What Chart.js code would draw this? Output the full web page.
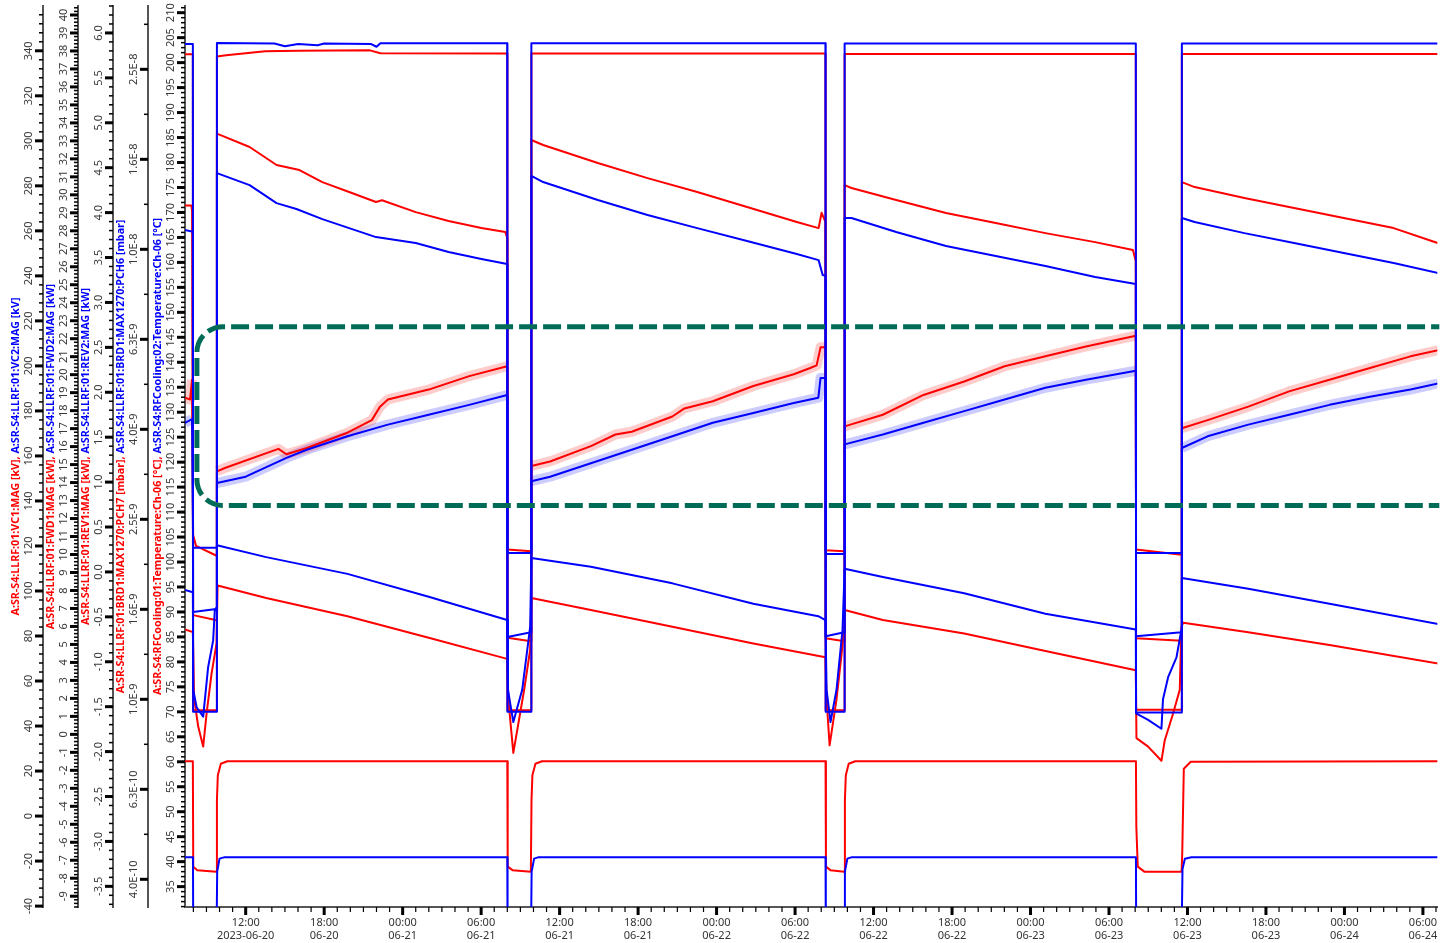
<!DOCTYPE html>
<html>
<head>
<meta charset="utf-8">
<title>SR-S4 LLRF</title>
<script src="https://cdn.jsdelivr.net/npm/chart.js@4.4.1/dist/chart.umd.min.js"></script>
<style>
  html, body { margin: 0; padding: 0; background: #fff; }
</style>
</head>
<body>
<canvas id="rfChart" width="1445" height="943"></canvas>
<script>
// all times are hours counted from 2023-06-20 00:00
const dayZero = Date.UTC(2023, 5, 20);

// cavity voltage [kV]
const vc1Red = [
  [7.36, 338.5], [7.96, 338.5], [7.98, 47.0], [9.78, 47.0], [9.80, 337.5], [10.5, 338.0], [13.5, 339.8],
  [16.0, 340.0], [21.5, 340.2], [22.3, 338.9], [31.99, 338.8], [32.01, 47.0], [33.82, 47.0], [33.84, 338.8],
  [56.32, 338.8], [56.34, 47.0], [57.77, 47.0], [57.79, 338.6], [80.05, 338.6], [80.07, 47.2], [83.55, 47.2],
  [83.57, 338.6], [103.2, 338.6]
];
const vc2Blue = [
  [7.36, 343.0], [7.96, 343.0], [7.98, 46.3], [9.78, 46.3], [9.80, 343.5], [14.2, 343.2], [15.0, 342.0],
  [16.0, 343.0], [17.5, 342.5], [18.0, 343.2], [21.6, 343.0], [22.0, 341.8], [22.3, 343.3], [31.99, 343.3],
  [32.01, 46.3], [33.82, 46.3], [33.84, 343.3], [56.32, 343.3], [56.34, 46.3], [57.77, 46.3], [57.79, 343.2],
  [80.05, 343.2], [80.07, 46.0], [83.55, 46.0], [83.57, 343.2], [103.2, 343.2]
];

// forward power [kW]
const fwd1Red = [
  [7.36, 29.4], [7.85, 29.4], [7.90, 29.1], [7.96, 29.1], [7.98, 6.63], [9.78, 6.35], [9.80, 33.4],
  [12.30, 32.66], [14.36, 31.66], [16.11, 31.38], [17.86, 30.71], [19.91, 30.16], [21.96, 29.6], [22.42, 29.7],
  [25.00, 29.04], [27.51, 28.54], [30.02, 28.15], [31.85, 27.93], [31.99, 27.6], [32.01, 5.37], [33.82, 5.18],
  [33.84, 33.05], [34.74, 32.77], [38.92, 31.77], [42.72, 30.93], [46.52, 30.16], [50.33, 29.32], [54.13, 28.49],
  [55.80, 28.15], [56.03, 29.0], [56.32, 28.5], [56.34, 5.35], [57.77, 5.18], [57.79, 30.54], [58.31, 30.38],
  [61.73, 29.71], [65.54, 28.99], [69.34, 28.43], [73.14, 27.87], [76.94, 27.37], [79.83, 26.93], [80.05, 26.3],
  [80.07, 5.35], [83.55, 5.2], [83.57, 30.71], [84.55, 30.43], [88.35, 29.82], [92.15, 29.27], [95.95, 28.71],
  [99.76, 28.15], [103.2, 27.3]
];
const fwd2Blue = [
  [7.36, 28.05], [7.96, 27.95], [7.98, 6.80], [9.6, 6.96], [9.78, 6.9], [9.80, 31.21], [12.30, 30.54],
  [14.36, 29.54], [15.88, 29.21], [17.86, 28.65], [19.91, 28.15], [21.96, 27.65], [25.00, 27.32], [27.51, 26.82],
  [30.02, 26.43], [31.99, 26.15], [32.01, 5.41], [33.82, 5.68], [33.84, 31.05], [34.74, 30.71], [38.92, 29.71],
  [42.72, 28.88], [46.52, 28.15], [50.33, 27.43], [54.13, 26.71], [55.80, 26.37], [56.11, 25.54], [56.32, 25.5],
  [56.34, 5.46], [57.77, 5.68], [57.79, 28.71], [58.31, 28.71], [61.73, 27.93], [65.54, 27.15], [69.34, 26.60],
  [73.14, 26.04], [76.94, 25.43], [80.05, 25.04], [80.07, 5.46], [83.55, 5.68], [83.57, 28.71], [84.55, 28.49],
  [88.35, 27.87], [92.15, 27.32], [95.95, 26.76], [99.76, 26.21], [103.2, 25.65]
];

// reflected power [kW]
const rev1Red = [
  [7.36, 1.94], [7.75, 1.92], [7.90, 2.14], [7.96, 2.14], [7.98, 0.41], [8.2, 0.29], [9.78, 0.18], [9.80, 1.12],
  [10.46, 1.16], [14.50, 1.37], [15.12, 1.31], [16.67, 1.38], [19.78, 1.55], [21.64, 1.69], [22.27, 1.84],
  [22.87, 1.92], [25.99, 2.03], [29.09, 2.18], [31.99, 2.29], [32.01, 0.25], [33.82, 0.23], [33.84, 1.18],
  [35.27, 1.23], [38.39, 1.40], [40.27, 1.53], [41.51, 1.56], [44.62, 1.73], [45.54, 1.82], [47.71, 1.90],
  [50.81, 2.07], [53.90, 2.20], [55.16, 2.27], [55.65, 2.30], [55.95, 2.50], [56.32, 2.50], [56.34, 0.24],
  [57.77, 0.23], [57.79, 1.62], [60.71, 1.75], [63.82, 1.97], [66.93, 2.12], [70.02, 2.29], [73.14, 2.40],
  [76.24, 2.51], [80.05, 2.63], [80.07, 0.25], [83.55, 0.19], [83.57, 1.60], [85.54, 1.69], [88.65, 1.84],
  [91.77, 2.01], [94.86, 2.14], [97.95, 2.27], [101.05, 2.40], [103.2, 2.47]
];
const rev2Blue = [
  [7.36, 1.66], [7.90, 1.70], [7.96, 1.70], [7.98, 0.27], [9.78, 0.27], [9.80, 0.99], [12.0, 1.06],
  [15.12, 1.27], [16.67, 1.36], [19.78, 1.51], [22.87, 1.64], [25.99, 1.75], [29.09, 1.86], [31.99, 1.97],
  [32.01, 0.21], [33.82, 0.21], [33.84, 1.01], [35.27, 1.06], [38.39, 1.21], [41.51, 1.36], [44.62, 1.51],
  [47.71, 1.66], [50.81, 1.77], [53.90, 1.88], [55.78, 1.94], [55.95, 2.16], [56.32, 2.16], [56.34, 0.20],
  [57.77, 0.20], [57.79, 1.42], [60.71, 1.53], [63.82, 1.66], [66.93, 1.79], [70.02, 1.92], [73.14, 2.05],
  [76.24, 2.14], [80.05, 2.24], [80.07, 0.21], [83.55, 0.21], [83.57, 1.38], [85.54, 1.51], [88.65, 1.64],
  [91.77, 1.75], [94.86, 1.86], [97.95, 1.95], [101.05, 2.03], [103.2, 2.10]
];

// vacuum [mbar]
const pch7Red = [
  [7.36, 1.43e-9], [7.96, 1.41e-9], [8.05, 1.01e-9], [8.37, 8.7e-10], [8.75, 7.85e-10], [9.01, 9.3e-10],
  [9.39, 1.14e-9], [9.77, 1.33e-9], [9.85, 1.79e-9], [13.57, 1.68e-9], [19.78, 1.53e-9], [25.99, 1.37e-9],
  [31.99, 1.23e-9], [32.08, 1.0e-9], [32.46, 7.6e-10], [33.29, 1.05e-9], [33.75, 1.29e-9], [33.84, 1.68e-9],
  [38.39, 1.58e-9], [44.62, 1.45e-9], [50.81, 1.33e-9], [56.32, 1.24e-9], [56.41, 1.0e-9], [56.64, 7.9e-10],
  [57.17, 1.0e-9], [57.63, 1.32e-9], [57.79, 1.58e-9], [60.71, 1.50e-9], [66.93, 1.40e-9], [73.14, 1.28e-9],
  [80.05, 1.16e-9], [80.10, 8.2e-10], [80.99, 7.85e-10], [82.01, 7.3e-10], [82.26, 8.1e-10], [82.90, 9.3e-10],
  [83.41, 1.05e-9], [83.54, 1.45e-9], [83.68, 1.48e-9], [88.65, 1.41e-9], [94.86, 1.32e-9], [103.2, 1.20e-9]
];
const pch6Blue = [
  [7.36, 1.75e-9], [7.96, 1.73e-9], [7.99, 1.05e-9], [8.25, 9.6e-10], [8.75, 9.15e-10], [9.13, 1.18e-9],
  [9.51, 1.35e-9], [9.64, 1.58e-9], [9.78, 1.60e-9], [9.80, 2.20e-9], [13.57, 2.07e-9], [19.78, 1.90e-9],
  [25.99, 1.69e-9], [31.99, 1.50e-9], [32.05, 1.05e-9], [32.46, 8.9e-10], [33.14, 1.05e-9], [33.75, 1.45e-9],
  [33.84, 2.06e-9], [38.39, 1.97e-9], [44.62, 1.81e-9], [50.81, 1.63e-9], [55.78, 1.53e-9], [56.32, 1.50e-9],
  [56.41, 1.05e-9], [56.71, 8.9e-10], [57.17, 1.05e-9], [57.63, 1.43e-9], [57.79, 1.95e-9], [60.71, 1.87e-9],
  [66.93, 1.72e-9], [73.14, 1.55e-9], [80.05, 1.43e-9], [80.07, 9.3e-10], [80.99, 9.0e-10], [82.01, 8.6e-10],
  [82.13, 1.0e-9], [82.52, 1.12e-9], [83.16, 1.24e-9], [83.54, 1.43e-9], [83.57, 1.86e-9], [88.65, 1.76e-9],
  [94.86, 1.63e-9], [103.2, 1.47e-9]
];

// cooling water temperature [°C]
const temp1Red = [
  [7.36, 60.1], [7.96, 60.1], [7.99, 39.0], [8.3, 38.3], [9.75, 38.0], [9.80, 52.3], [9.87, 57.3], [10.1, 59.6],
  [10.6, 60.1], [32.0, 60.1], [32.03, 39.0], [32.4, 38.3], [33.8, 38.0], [33.85, 52.3], [33.92, 57.3],
  [34.15, 59.6], [34.65, 60.1], [56.33, 60.1], [56.36, 39.0], [56.7, 38.3], [57.76, 38.0], [57.81, 52.3],
  [57.88, 57.3], [58.1, 59.6], [58.6, 60.1], [80.06, 60.1], [80.09, 47.0], [80.2, 39.0], [80.7, 38.0],
  [83.55, 38.0], [83.6, 41.7], [83.72, 58.6], [84.25, 60.0], [103.2, 60.1]
];
const temp2Blue = [
  [7.36, 40.9], [7.97, 40.9], [7.99, 25], [9.77, 25], [9.82, 38.0], [10.0, 40.6], [10.4, 40.9], [32.0, 40.9],
  [32.02, 25], [33.81, 25], [33.86, 38.0], [34.05, 40.6], [34.4, 40.9], [56.33, 40.9], [56.35, 25], [57.76, 25],
  [57.81, 38.0], [58.0, 40.6], [58.35, 40.9], [80.06, 40.9], [80.08, 25], [83.55, 25], [83.62, 38.5],
  [83.8, 40.6], [84.3, 40.9], [103.2, 40.9]
];

// highlighted region: hours and reflected power [kW]
const focusHours = [8.27, 104];
const focusRevKw = [2.73, 0.74];

const axisTitles = {
  yKV: ['A:SR-S4:LLRF:01:VC1:MAG [kV]', 'A:SR-S4:LLRF:01:VC2:MAG [kV]'],
  yFWD: ['A:SR-S4:LLRF:01:FWD1:MAG [kW]', 'A:SR-S4:LLRF:01:FWD2:MAG [kW]'],
  yREV: ['A:SR-S4:LLRF:01:REV1:MAG [kW]', 'A:SR-S4:LLRF:01:REV2:MAG [kW]'],
  yP: ['A:SR-S4:LLRF:01:BRD1:MAX1270:PCH7 [mbar]', 'A:SR-S4:LLRF:01:BRD1:MAX1270:PCH6 [mbar]'],
  yT: ['A:SR-S4:RFCooling:01:Temperature:Ch-06 [°C]', 'A:SR-S4:RFCooling:02:Temperature:Ch-06 [°C]']
};

const RED = '#ff0000', BLUE = '#0000ff';
Chart.defaults.font.family = '"Noto Sans", "DejaVu Sans", sans-serif';

const pts = arr => arr.map(([x, y]) => ({ x, y }));

function line(label, arr, axis, color, order) {
  return { label, data: pts(arr), yAxisID: axis, borderColor: color, borderWidth: 2,
    pointRadius: 0, tension: 0, fill: false, borderJoinStyle: 'round', order };
}
// min/max envelope, only shown while RF is on (REV above 0.6 kW)
function band(label, arr, axis, color) {
  return { label, data: pts(arr), yAxisID: axis, borderColor: color, borderWidth: 10,
    pointRadius: 0, tension: 0, fill: false, borderJoinStyle: 'round', order: 20,
    segment: { borderColor: c => (c.p0.parsed.y < 0.6 || c.p1.parsed.y < 0.6) ? 'rgba(0,0,0,0)' : color } };
}

// ticks every `step`, majors every `majorStep`
function linearTicks(step, majorStep) {
  return scale => {
    const out = [];
    const n0 = Math.ceil(scale.min / step - 1e-9), n1 = Math.floor(scale.max / step + 1e-9);
    for (let n = n0; n <= n1; n++) {
      const v = +(n * step).toFixed(6);
      const r = v / majorStep;
      out.push({ value: v, major: Math.abs(r - Math.round(r)) < 1e-6 });
    }
    scale.ticks = out;
  };
}
function logTicks(scale) {
  const out = [];
  const k0 = Math.ceil(Math.log10(scale.min) * 10 - 1e-9), k1 = Math.floor(Math.log10(scale.max) * 10 + 1e-9);
  for (let k = k0; k <= k1; k++) out.push({ value: Math.pow(10, k / 10), major: k % 2 === 0 });
  scale.ticks = out;
}

function yAxis(type, min, max, weight, width, ticker, fmt) {
  return {
    type, position: 'left', min, max, weight, bounds: 'data',
    afterBuildTicks: ticker,
    afterFit: s => { s.width = width; },
    grid: { display: false, drawTicks: false },
    border: { display: true, color: '#555', width: 2 },
    ticks: { display: false, callback: (v, i, ticks) => ticks[i].major ? fmt(v) : '' }
  };
}

// dashed focus box, rotated tick marks, tick labels and two-colour titles on the left axes
const axisDecor = {
  id: 'axisDecor',
  afterDatasetsDraw(chart) {
    const { ctx, chartArea: a } = chart;
    const x0 = chart.scales.x.getPixelForValue(focusHours[0]);
    const x1 = chart.scales.x.getPixelForValue(focusHours[1]);
    const yTop = chart.scales.yREV.getPixelForValue(focusRevKw[0]);
    const yBot = chart.scales.yREV.getPixelForValue(focusRevKw[1]);
    const r = 26;
    ctx.save();
    ctx.beginPath();
    ctx.rect(a.left, a.top, a.right - a.left + 2, a.bottom - a.top);
    ctx.clip();
    ctx.strokeStyle = '#006c58';
    ctx.lineWidth = 5;
    ctx.setLineDash([18, 6]);
    ctx.beginPath();
    ctx.moveTo(x1, yTop);
    ctx.lineTo(x0 + r, yTop);
    ctx.arcTo(x0, yTop, x0, yTop + r, r);
    ctx.lineTo(x0, yBot - r);
    ctx.arcTo(x0, yBot, x0 + r, yBot, r);
    ctx.lineTo(x1, yBot);
    ctx.stroke();
    ctx.restore();
  },
  afterDraw(chart) {
    const { ctx, chartArea: a, scales } = chart;
    ctx.save();
    for (const id of Object.keys(axisTitles)) {
      const s = scales[id];
      const xr = s.right;
      ctx.fillStyle = '#000';
      for (const t of s.ticks) {
        const py = s.getPixelForValue(t.value);
        if (t.major) ctx.fillRect(xr - 8, py - 1.5, 8, 3);
        else ctx.fillRect(xr - 4, py - 0.75, 4, 1.5);
      }
      ctx.font = '11px "Noto Sans"';
      ctx.fillStyle = '#3a3a3a';
      ctx.textAlign = 'center';
      ctx.textBaseline = 'middle';
      for (const t of s.ticks) {
        if (!t.label) continue;
        ctx.save();
        ctx.translate(xr - 14, s.getPixelForValue(t.value));
        ctx.rotate(-Math.PI / 2);
        ctx.fillText(t.label, 0, 0);
        ctx.restore();
      }
      const [p1, p2] = axisTitles[id];
      ctx.font = 'bold 10.7px "Noto Sans"';
      const first = p1 + ', ';
      const w1 = ctx.measureText(first).width, w2 = ctx.measureText(p2).width;
      ctx.save();
      ctx.translate(xr - 27, (a.top + a.bottom) / 2);
      ctx.rotate(-Math.PI / 2);
      ctx.textAlign = 'left';
      ctx.fillStyle = RED;
      ctx.fillText(first, -(w1 + w2) / 2, 0);
      ctx.fillStyle = BLUE;
      ctx.fillText(p2, -(w1 + w2) / 2 + w1, 0);
      ctx.restore();
    }
    // time axis tick marks
    const sx = scales.x;
    ctx.fillStyle = '#000';
    for (const t of sx.ticks) {
      const px = sx.getPixelForValue(t.value);
      if (t.major) ctx.fillRect(px - 1.5, sx.top, 3, 8);
      else ctx.fillRect(px - 0.6, sx.top, 1.2, 5);
    }
    ctx.restore();
  }
};

new Chart(document.getElementById('rfChart'), {
  type: 'line',
  data: {
    datasets: [
      band('REV1 band', rev1Red, 'yREV', 'rgba(255,0,0,0.2)'),
      band('REV2 band', rev2Blue, 'yREV', 'rgba(0,0,255,0.2)'),
      line('A:SR-S4:LLRF:01:VC1:MAG', vc1Red, 'yKV', RED, 5),
      line('A:SR-S4:LLRF:01:FWD1:MAG', fwd1Red, 'yFWD', RED, 5),
      line('A:SR-S4:LLRF:01:REV1:MAG', rev1Red, 'yREV', RED, 5),
      line('A:SR-S4:LLRF:01:BRD1:MAX1270:PCH7', pch7Red, 'yP', RED, 5),
      line('A:SR-S4:RFCooling:01:Temperature:Ch-06', temp1Red, 'yT', RED, 5),
      line('A:SR-S4:LLRF:01:VC2:MAG', vc2Blue, 'yKV', BLUE, 1),
      line('A:SR-S4:LLRF:01:FWD2:MAG', fwd2Blue, 'yFWD', BLUE, 1),
      line('A:SR-S4:LLRF:01:REV2:MAG', rev2Blue, 'yREV', BLUE, 1),
      line('A:SR-S4:LLRF:01:BRD1:MAX1270:PCH6', pch6Blue, 'yP', BLUE, 1),
      line('A:SR-S4:RFCooling:02:Temperature:Ch-06', temp2Blue, 'yT', BLUE, 1)
    ]
  },
  options: {
    responsive: false,
    animation: false,
    events: [],
    layout: { padding: { top: 6, right: 1, left: 0, bottom: 0 } },
    plugins: { legend: { display: false }, tooltip: { enabled: false } },
    scales: {
      x: {
        type: 'linear', position: 'bottom', min: 7.36, max: 103.1, bounds: 'data',
        afterBuildTicks: s => {
          const out = [];
          for (let h = Math.ceil(s.min); h <= Math.floor(s.max); h++) out.push({ value: h, major: h % 6 === 0 });
          s.ticks = out;
        },
        afterFit: s => { s.height = 36; },
        grid: { display: false, drawTicks: false },
        border: { display: true, color: '#555', width: 2 },
        ticks: {
          autoSkip: false, maxRotation: 0, minRotation: 0, padding: 9, color: '#333',
          font: { size: 11 },
          callback: (v, i, ticks) => {
            if (v % 6 !== 0) return '';
            const iso = new Date(dayZero + v * 3600e3).toISOString();
            const firstMajor = ticks.findIndex(t => t.value % 6 === 0) === i;
            return [iso.slice(11, 16), firstMajor ? iso.slice(0, 10) : iso.slice(5, 10)];
          }
        }
      },
      yKV: yAxis('linear', -40.4, 359.9, 5, 43, linearTicks(4, 20), v => v.toFixed(0)),
      yFWD: yAxis('linear', -9.6, 40.5, 4, 35, linearTicks(0.2, 1), v => v.toFixed(0)),
      yREV: yAxis('linear', -3.73, 6.30, 3, 35, linearTicks(0.1, 0.5), v => v.toFixed(1)),
      yP: yAxis('logarithmic', 3.455e-10, 3.473e-8, 2, 35, logTicks, v => v.toExponential(1).toUpperCase()),
      yT: yAxis('linear', 30.92, 211.34, 1, 37, linearTicks(1, 5), v => v.toFixed(0))
    }
  },
  plugins: [axisDecor]
});
</script>
</body>
</html>
